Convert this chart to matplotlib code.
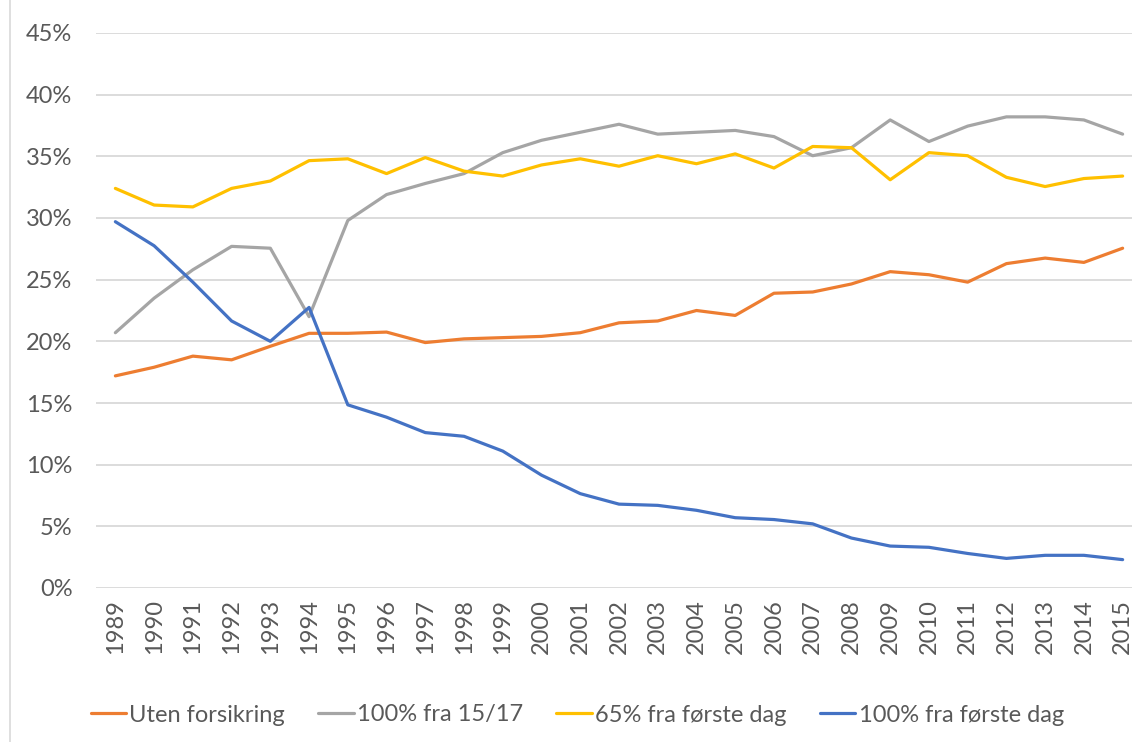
import matplotlib.pyplot as plt
from matplotlib.lines import Line2D
from matplotlib.ticker import PercentFormatter
import numpy as np

plt.rcParams['font.family'] = ['Lato', 'DejaVu Sans']

years = [str(y) for y in range(1989, 2016)]

# andel (%) per år
uten_forsikring = [17.2, 17.9, 18.8, 18.5, 19.6, 20.65, 20.65, 20.75, 19.9, 20.2,
                   20.3, 20.4, 20.7, 21.5, 21.65, 22.5, 22.1, 23.9, 24.0, 24.65,
                   25.65, 25.4, 24.8, 26.3, 26.75, 26.4, 27.55]
fra_15_17 = [20.7, 23.5, 25.8, 27.7, 27.55, 22.0, 29.8, 31.9, 32.8, 33.6,
             35.3, 36.3, 36.95, 37.6, 36.8, 36.95, 37.1, 36.6, 35.05, 35.7,
             37.95, 36.2, 37.45, 38.2, 38.2, 37.95, 36.8]
pst65_forste_dag = [32.4, 31.05, 30.9, 32.4, 33.0, 34.65, 34.8, 33.6, 34.9, 33.8,
                    33.4, 34.3, 34.8, 34.2, 35.05, 34.4, 35.2, 34.05, 35.8, 35.7,
                    33.1, 35.3, 35.05, 33.3, 32.55, 33.2, 33.4]
pst100_forste_dag = [29.7, 27.75, 24.8, 21.65, 20.0, 22.75, 14.85, 13.85, 12.6, 12.3,
                     11.1, 9.15, 7.65, 6.8, 6.7, 6.3, 5.7, 5.55, 5.2, 4.05,
                     3.4, 3.3, 2.8, 2.4, 2.65, 2.65, 2.3]

serier = [
    ('Uten forsikring', uten_forsikring, '#ED7D31'),
    ('100% fra 15/17', fra_15_17, '#A5A5A5'),
    ('65% fra første dag', pst65_forste_dag, '#FFC000'),
    ('100% fra første dag', pst100_forste_dag, '#4472C4'),
]

fig = plt.figure(figsize=(11.32, 7.42), dpi=100)
ax = fig.add_axes([96 / 1132, 1 - 588 / 742, 1046 / 1132, 555 / 742])

x = np.arange(len(years))
for navn, verdier, farge in serier:
    ax.plot(x, np.array(verdier) / 100, color=farge, lw=2.3, label=navn,
            solid_joinstyle='round', solid_capstyle='round')

ax.set_xlim(-0.5, len(years) - 0.5)
ax.set_ylim(0, 0.45)
ax.set_yticks(np.arange(0, 0.451, 0.05))
ax.yaxis.set_major_formatter(PercentFormatter(1.0, decimals=0))
ax.set_xticks(x)
ax.set_xticklabels(years, rotation=90)
ax.grid(axis='y', color='#D9D9D9', lw=1.3)
ax.set_axisbelow(True)
for s in ax.spines.values():
    s.set_visible(False)
ax.tick_params(length=0, labelsize=17, colors='#595959')
ax.tick_params(axis='y', pad=17)
ax.tick_params(axis='x', pad=8)

fig.legend(loc='center', bbox_to_anchor=(0.51, 1 - 715 / 742), ncol=4,
           frameon=False, fontsize=17, labelcolor='#595959',
           handlelength=1.5, handletextpad=0.15, columnspacing=1.4)

fig.add_artist(Line2D([10 / 1132, 10 / 1132], [0, 1], color='#D9D9D9', lw=1.2,
                      transform=fig.transFigure))

fig.savefig('out.png', dpi=100)
